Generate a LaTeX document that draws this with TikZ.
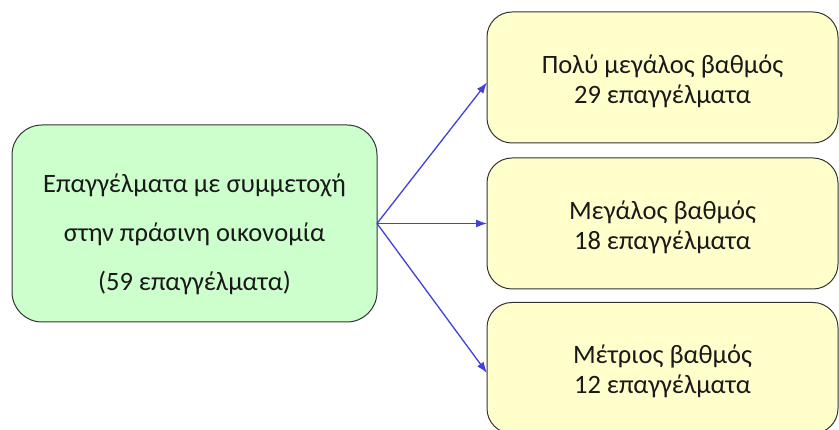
\documentclass[tikz,border=0pt]{standalone}
\usepackage{fontspec}
\setmainfont{Carlito}
\usetikzlibrary{arrows.meta}
\definecolor{boxgreen}{HTML}{CCFFCC}
\definecolor{boxyellow}{HTML}{FFFFCC}
\definecolor{arrowblue}{HTML}{4040E0}
\begin{document}
\begin{tikzpicture}[x=1pt,y=1pt,
    mainbox/.style={draw=black!80,line width=1pt,rounded corners=30pt,fill=boxgreen,
        minimum width=365pt,minimum height=197pt,inner sep=0pt,outer sep=0pt,align=center,
        font=\fontsize{26.5}{49}\selectfont,text=black!90},
    degreebox/.style={draw=black!80,line width=1pt,rounded corners=25pt,fill=boxyellow,
        minimum width=351pt,minimum height=131pt,inner sep=0pt,outer sep=0pt,align=center,
        font=\fontsize{26.5}{30}\selectfont,text=black!90}]
		\useasboundingbox (0,0) rectangle (839,430);

		\node[mainbox] (green) at (194.5,206.5) {\rule{0pt}{40pt}Επαγγέλματα με συμμετοχή\\στην πράσινη οικονομία\\(59 επαγγέλματα)};

		\node[degreebox] (high) at (662.5,352.5) {\rule{0pt}{26pt}Πολύ μεγάλος βαθμός\\29 επαγγέλματα};
		\node[degreebox] (mid) at (662.5,206.5) {\rule{0pt}{26pt}Μεγάλος βαθμός\\18 επαγγέλματα};
		\node[degreebox] (low) at (662.5,62) {\rule{0pt}{26pt}Μέτριος βαθμός\\12 επαγγέλματα};

		\begin{scope}[->,>={Latex[length=11pt,width=8pt]},arrowblue,line width=1.3pt]
		    \draw (green.east) -- ([yshift=-5pt]high.west);
		    \draw (green.east) -- (mid.west);
		    \draw (green.east) -- ([yshift=-5pt]low.west);
		\end{scope}
	    \end{tikzpicture}
\end{document}
